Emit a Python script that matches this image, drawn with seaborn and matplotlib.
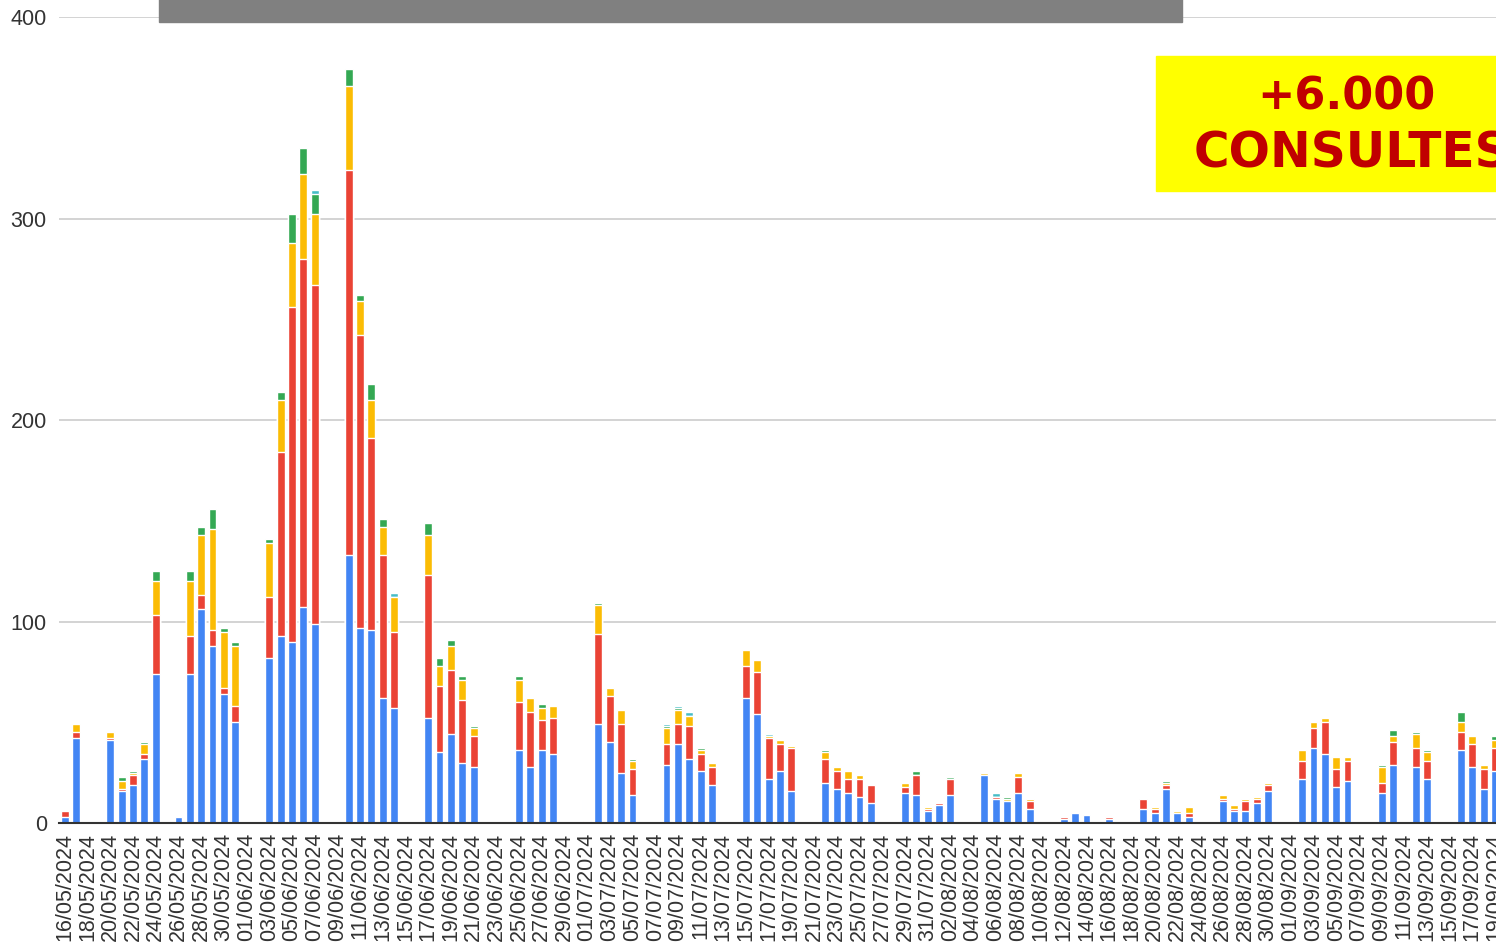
import pandas as pd
import matplotlib.pyplot as plt
from matplotlib.patches import Rectangle
import seaborn as sns

# dies del 16/05/2024 al 19/09/2024
dates = list(pd.date_range('2024-05-16', '2024-09-19').strftime('%d/%m/%Y'))

blue = [
    3, 42, 0, 0, 41, 16, 19, 32, 74, 0,
    3, 74, 106, 88, 64, 50, 0, 0, 82, 93,
    90, 107, 99, 0, 0, 133, 97, 96, 62, 57,
    0, 0, 52, 35, 44, 30, 28, 0, 0, 0,
    36, 28, 36, 34, 0, 0, 0, 49, 40, 25,
    14, 0, 0, 29, 39, 32, 26, 19, 0, 0,
    62, 54, 22, 26, 16, 0, 0, 20, 17, 15,
    13, 10, 0, 0, 15, 14, 6, 9, 14, 0,
    0, 24, 12, 11, 15, 7, 0, 0, 2, 5,
    4, 0, 2, 0, 0, 7, 5, 17, 5, 3,
    0, 0, 11, 6, 6, 10, 16, 0, 0, 22,
    37, 34, 18, 21, 0, 0, 15, 29, 0, 28,
    22, 0, 0, 36, 28, 17, 26]

red = [
    3, 3, 0, 0, 1, 1, 5, 2, 29, 0,
    0, 19, 7, 8, 3, 8, 0, 0, 30, 91,
    166, 173, 168, 0, 0, 191, 145, 95, 71, 38,
    0, 0, 71, 33, 32, 31, 15, 0, 0, 0,
    24, 27, 15, 18, 0, 0, 1, 45, 23, 24,
    13, 0, 0, 10, 10, 16, 8, 9, 0, 0,
    16, 21, 20, 13, 21, 0, 0, 12, 9, 7,
    9, 9, 0, 0, 3, 10, 1, 1, 8, 0,
    0, 0, 1, 0, 8, 4, 0, 0, 1, 0,
    0, 0, 1, 0, 0, 5, 2, 2, 0, 2,
    0, 0, 1, 1, 5, 2, 3, 0, 0, 9,
    10, 16, 9, 10, 0, 0, 5, 11, 0, 9,
    9, 0, 0, 9, 11, 10, 11]

orange = [
    0, 4, 0, 0, 3, 4, 1, 5, 17, 0,
    0, 27, 30, 50, 28, 30, 0, 0, 27, 26,
    32, 42, 35, 0, 0, 42, 17, 19, 14, 17,
    0, 0, 20, 10, 12, 10, 4, 0, 0, 0,
    11, 7, 6, 6, 0, 0, 0, 14, 4, 7,
    4, 0, 0, 8, 7, 5, 2, 2, 0, 0,
    8, 6, 1, 2, 1, 0, 0, 3, 2, 4,
    2, 0, 0, 0, 2, 0, 1, 0, 0, 0,
    0, 1, 0, 1, 2, 1, 0, 0, 0, 0,
    0, 0, 0, 0, 0, 0, 1, 1, 1, 3,
    0, 0, 2, 2, 1, 1, 1, 0, 0, 5,
    3, 2, 6, 2, 0, 0, 8, 3, 0, 7,
    4, 0, 0, 5, 4, 2, 4]

green = [
    0, 0, 0, 0, 0, 2, 1, 1, 5, 0,
    0, 5, 4, 10, 2, 2, 0, 0, 2, 4,
    14, 13, 10, 0, 0, 8, 3, 8, 4, 0,
    0, 0, 6, 4, 3, 2, 1, 0, 0, 0,
    2, 0, 2, 0, 0, 0, 0, 1, 0, 0,
    1, 0, 0, 1, 1, 0, 1, 0, 0, 0,
    0, 0, 0, 0, 0, 0, 0, 1, 0, 0,
    0, 0, 0, 0, 0, 2, 0, 0, 1, 0,
    0, 0, 0, 1, 0, 0, 0, 0, 0, 0,
    0, 0, 0, 0, 0, 0, 0, 1, 0, 0,
    0, 0, 0, 0, 0, 0, 0, 0, 0, 0,
    0, 0, 0, 0, 0, 0, 1, 3, 0, 1,
    1, 0, 0, 5, 0, 0, 2]

teal = [
    0, 0, 0, 0, 0, 0, 0, 0, 0, 0,
    0, 0, 0, 0, 0, 0, 0, 0, 0, 0,
    0, 0, 2, 0, 0, 0, 0, 0, 0, 2,
    0, 0, 0, 0, 0, 0, 0, 0, 0, 0,
    0, 0, 0, 0, 0, 0, 0, 0, 0, 0,
    0, 0, 0, 1, 1, 2, 0, 0, 0, 0,
    0, 0, 1, 0, 0, 0, 0, 0, 0, 0,
    0, 0, 0, 0, 0, 0, 0, 0, 0, 0,
    0, 0, 2, 0, 0, 0, 0, 0, 0, 0,
    0, 0, 0, 0, 0, 0, 0, 0, 0, 0,
    0, 0, 0, 0, 0, 0, 0, 0, 0, 0,
    0, 0, 0, 0, 0, 0, 0, 0, 0, 0,
    0, 0, 0, 0, 0, 0, 0]

data = pd.DataFrame({'data': dates, 'blue': blue, 'red': red,
                     'orange': orange, 'green': green, 'teal': teal})
# alcades acumulades per apilar
data['c1'] = data['blue']
data['c2'] = data['c1'] + data['red']
data['c3'] = data['c2'] + data['orange']
data['c4'] = data['c3'] + data['green']
data['c5'] = data['c4'] + data['teal']

sns.set_style('white')
plt.rcParams['font.family'] = ['Liberation Sans', 'DejaVu Sans']

W, H = 1496, 947
fig = plt.figure(figsize=(W / 100, H / 100), dpi=100)
ax = fig.add_axes([59.3 / W, (H - 823) / H, 128 * 11.35 / W, 806 / H])

layers = [('c5', '#46BDC6'), ('c4', '#34A853'), ('c3', '#FBBC04'),
          ('c2', '#EA4335'), ('c1', '#4285F4')]
for col, c in layers:
    sns.barplot(data=data, x='data', y=col, color=c, saturation=1,
                width=0.7, order=dates, ax=ax, zorder=3)

ax.set_xlim(-0.5, 127.5)
ax.set_ylim(0, 400)
ax.set_yticks([0, 100, 200, 300, 400])
ax.set_xticks(range(0, len(dates), 2))
ax.set_xticklabels(dates[::2], rotation=90)
ax.set_xlabel('')
ax.set_ylabel('')
ax.yaxis.grid(True, color='#cccccc', linewidth=1.2)
ax.set_axisbelow(True)
for s in ['top', 'right', 'left']:
    ax.spines[s].set_visible(False)
ax.spines['bottom'].set_color('#333333')
ax.spines['bottom'].set_linewidth(1.5)
ax.spines['bottom'].set_zorder(4)
ax.tick_params(axis='both', length=0, labelsize=15.5, labelcolor='#333333')
ax.tick_params(axis='y', pad=9)
ax.tick_params(axis='x', pad=7)

# barra grisa a dalt
fig.add_artist(Rectangle((159 / W, 1 - 22 / H), 1023 / W, 30 / H,
                         transform=fig.transFigure, color='#808080', zorder=5))
# requadre groc
fig.add_artist(Rectangle((1156 / W, (H - 191) / H), 400 / W, 135 / H,
                         transform=fig.transFigure, color='#FFFF00', zorder=5))
fig.text(1346 / W, (H - 97) / H, '+6.000', ha='center', va='center',
         fontsize=32, fontweight='bold', color='#C00000',
         family=['DejaVu Sans'], zorder=6)
fig.text(1352 / W, (H - 153) / H, 'CONSULTES', ha='center', va='center',
         fontsize=35, fontweight='bold', color='#C00000',
         family=['DejaVu Sans'], zorder=6)

plt.savefig('out.png', dpi=100)
